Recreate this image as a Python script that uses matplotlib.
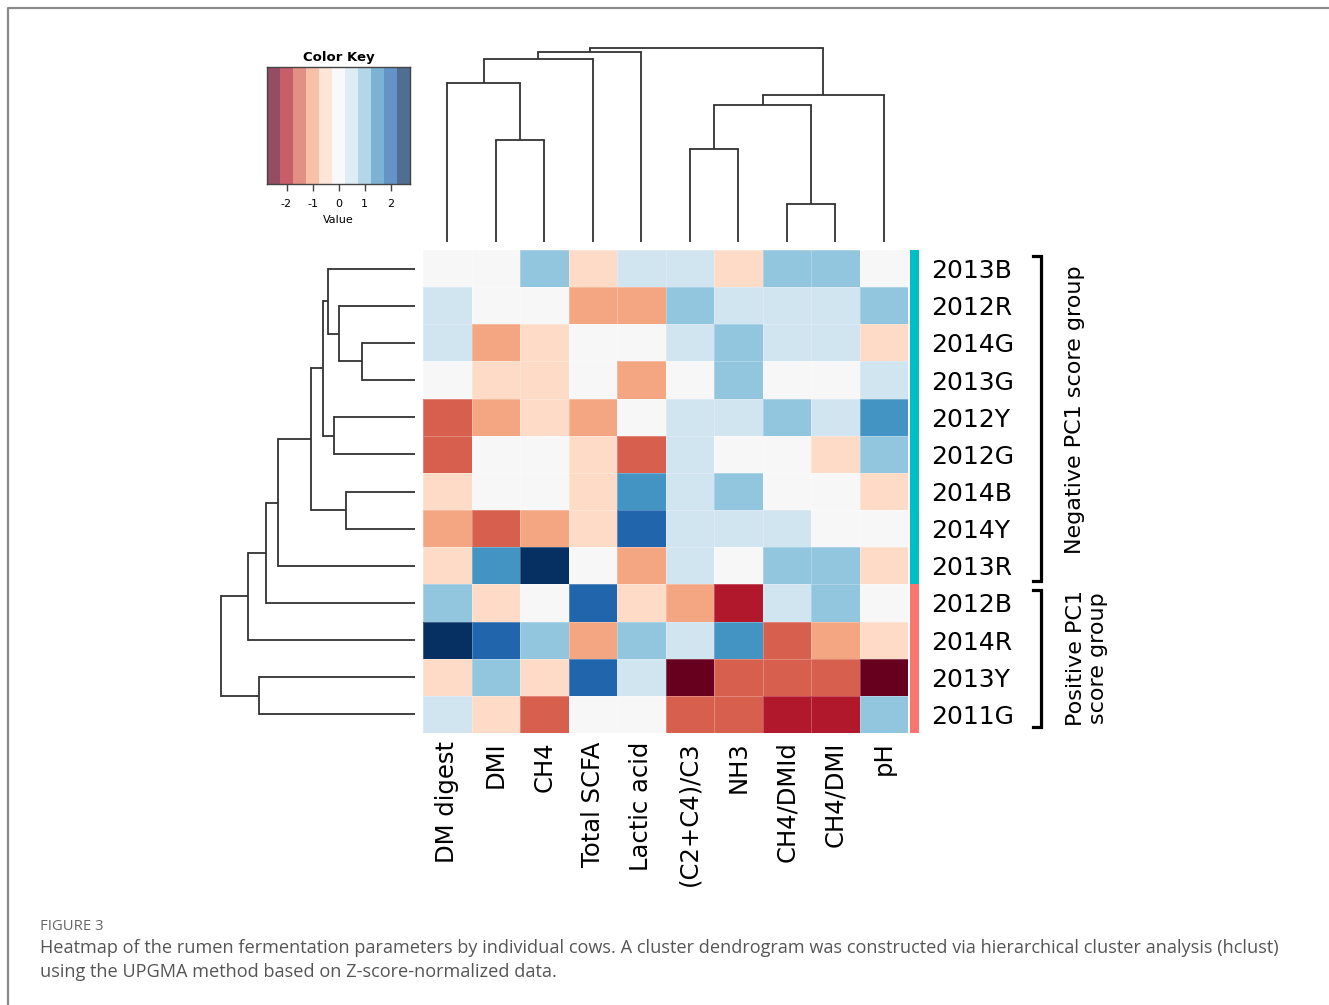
import numpy as np
import matplotlib
matplotlib.use("Agg")
import matplotlib.pyplot as plt
from matplotlib.colors import ListedColormap, BoundaryNorm

W, H = 1329, 1005

# data (Z-score levels)
cols = ["DM digest", "DMI", "CH4", "Total SCFA", "Lactic acid",
        "(C2+C4)/C3", "NH3", "CH4/DMId", "CH4/DMI", "pH"]
rows = ["2013B", "2012R", "2014G", "2013G", "2012Y", "2012G", "2014B",
        "2014Y", "2013R", "2012B", "2014R", "2013Y", "2011G"]
z = [
    [0.0, 0.0, 1.0, -0.5, 0.5, 0.5, -0.5, 1.0, 1.0, 0.0],
    [0.5, 0.0, 0.0, -1.0, -1.0, 1.0, 0.5, 0.5, 0.5, 1.0],
    [0.5, -1.0, -0.5, 0.0, 0.0, 0.5, 1.0, 0.5, 0.5, -0.5],
    [0.0, -0.5, -0.5, 0.0, -1.0, 0.0, 1.0, 0.0, 0.0, 0.5],
    [-1.5, -1.0, -0.5, -1.0, 0.0, 0.5, 0.5, 1.0, 0.5, 1.5],
    [-1.5, 0.0, 0.0, -0.5, -1.5, 0.5, 0.0, 0.0, -0.5, 1.0],
    [-0.5, 0.0, 0.0, -0.5, 1.5, 0.5, 1.0, 0.0, 0.0, -0.5],
    [-1.0, -1.5, -1.0, -0.5, 2.0, 0.5, 0.5, 0.5, 0.0, 0.0],
    [-0.5, 1.5, 2.5, 0.0, -1.0, 0.5, 0.0, 1.0, 1.0, -0.5],
    [1.0, -0.5, 0.0, 2.0, -0.5, -1.0, -2.0, 0.5, 1.0, 0.0],
    [2.5, 2.0, 1.0, -1.0, 1.0, 0.5, 1.5, -1.5, -1.0, -0.5],
    [-0.5, 1.0, -0.5, 2.0, 0.5, -2.5, -1.5, -1.5, -1.5, -2.5],
    [0.5, -0.5, -1.5, 0.0, 0.0, -1.5, -1.5, -2.0, -2.0, 1.0],
]
row_group = [0, 0, 0, 0, 0, 0, 0, 0, 0, 1, 1, 1, 1]  # 0 negative, 1 positive PC1

# dendrogram merges (child a, child b, height); leaves in display order
row_merges = [(2, 3, 2.65), (1, 13, 3.8), (0, 14, 4.35), (4, 5, 4.05),
              (15, 16, 4.6), (6, 7, 3.45), (17, 18, 5.2), (19, 8, 6.85),
              (20, 9, 7.45), (21, 10, 8.35), (11, 12, 7.8), (22, 23, 9.7)]
col_merges = [(1, 2, 5.1), (0, 10, 7.95), (11, 3, 9.15), (12, 4, 9.5),
              (5, 6, 4.65), (7, 8, 1.9), (14, 15, 6.85), (16, 9, 7.35),
              (13, 17, 9.7)]

rdbu = ['#67001f', '#b2182b', '#d6604d', '#f4a582', '#fddbc7', '#f7f7f7',
        '#d1e5f0', '#92c5de', '#4393c3', '#2166ac', '#053061']
bounds = np.arange(-2.75, 2.76, 0.5)
cmap = ListedColormap(rdbu)
norm = BoundaryNorm(bounds, cmap.N)


def px(x0, y0, x1, y1):
    return [x0 / W, 1 - y1 / H, (x1 - x0) / W, (y1 - y0) / H]


def dendro(ax, merges, n, vertical):
    pos = {i: i + 0.5 for i in range(n)}
    hgt = {i: 0.0 for i in range(n)}
    for k, (a, b, h) in enumerate(merges):
        node = n + k
        for c in (a, b):
            seg_p = [pos[c], pos[c]]
            seg_h = [hgt[c], h]
            if vertical:
                ax.plot(seg_p, seg_h, color="#333333", lw=1.3, solid_capstyle="butt")
            else:
                ax.plot(seg_h, seg_p, color="#333333", lw=1.3, solid_capstyle="butt")
        if vertical:
            ax.plot([pos[a], pos[b]], [h, h], color="#333333", lw=1.3)
        else:
            ax.plot([h, h], [pos[a], pos[b]], color="#333333", lw=1.3)
        pos[node] = (pos[a] + pos[b]) / 2
        hgt[node] = h
    ax.axis("off")


fig = plt.figure(figsize=(W / 100, H / 100), dpi=100)

ov = fig.add_axes([0, 0, 1, 1])
ov.set_xlim(0, W)
ov.set_ylim(H, 0)
ov.axis("off")

# heatmap
ax = fig.add_axes(px(423, 250, 908, 733))
ax.pcolormesh(np.array(z), cmap=cmap, norm=norm,
              edgecolors=(1, 1, 1, 0.25), linewidth=0.4)
ax.set_xlim(0, len(cols))
ax.set_ylim(len(rows), 0)
ax.set_xticks(np.arange(len(cols)) + 0.5)
ax.set_xticklabels(cols, rotation=90, fontsize=17.5, va="top")
ax.set_yticks(np.arange(len(rows)) + 0.5)
ax.set_yticklabels(rows, fontsize=18)
ax.yaxis.tick_right()
ax.tick_params(length=0, axis="y", pad=17)
ax.tick_params(length=0, axis="x", pad=6)
for s in ax.spines.values():
    s.set_visible(False)

# row side colours
axs = fig.add_axes(px(910, 250, 919, 733))
axs.imshow(np.array(row_group)[:, None], aspect="auto",
           cmap=ListedColormap(["#00BFC4", "#F8766D"]), interpolation="nearest")
axs.axis("off")

# dendrograms
axr = fig.add_axes(px(210, 250, 415, 733))
dendro(axr, row_merges, len(rows), vertical=False)
axr.set_xlim(10.25, 0)
axr.set_ylim(len(rows), 0)
axr.axis("off")

axc = fig.add_axes(px(423, 40, 908, 242))
dendro(axc, col_merges, len(cols), vertical=True)
axc.set_xlim(0, len(cols))
axc.set_ylim(0, 10.1)
axc.axis("off")

# colour key
axk = fig.add_axes(px(267, 67, 410, 184))
axk.imshow(np.linspace(-2.5, 2.5, 11)[None, :], cmap=cmap, norm=norm, alpha=0.7,
           aspect="auto", extent=(-2.75, 2.75, 0, 1))
axk.set_xlim(-2.75, 2.75)
axk.set_yticks([])
axk.set_xticks([-2, -1, 0, 1, 2])
axk.set_xticklabels(["-2", "-1", "0", "1", "2"], fontsize=8)
axk.tick_params(axis="x", length=5, width=1, color="#444444", pad=6)
axk.set_xlabel("Value", fontsize=8, labelpad=4)
axk.set_title("Color Key", fontsize=9.5, fontweight="bold", pad=4)
for s in axk.spines.values():
    s.set_color("#444444")
    s.set_linewidth(1)

# group brackets and labels
def bracket(y0, y1, x=1041, hook=8):
    ov.plot([x - hook, x, x, x - hook], [y0, y0, y1, y1], color="black",
            lw=2.3, solid_joinstyle="miter")

bracket(256, 581)
bracket(590, 727)
ov.text(1075, 410, "Negative PC1 score group", rotation=90, ha="center",
        va="center", fontsize=16)
ov.text(1087, 658, "Positive PC1\nscore group", rotation=90, ha="center",
        va="center", fontsize=16, linespacing=1.15)

# frame and caption
ov.plot([8, 8, W], [H, 8, 8], color="#8a8a8a", lw=1.6)
ov.text(40, 926, "FIGURE 3", fontsize=10.7, color="#666666", va="center",
        family="Open Sans")
ov.text(40, 960, "Heatmap of the rumen fermentation parameters by individual cows. "
        "A cluster dendrogram was constructed via hierarchical cluster analysis (hclust)\n"
        "using the UPGMA method based on Z-score-normalized data.",
        fontsize=13.1, color="#555555", va="center", family="Open Sans",
        linespacing=1.42)

fig.savefig("out.png", dpi=100)
